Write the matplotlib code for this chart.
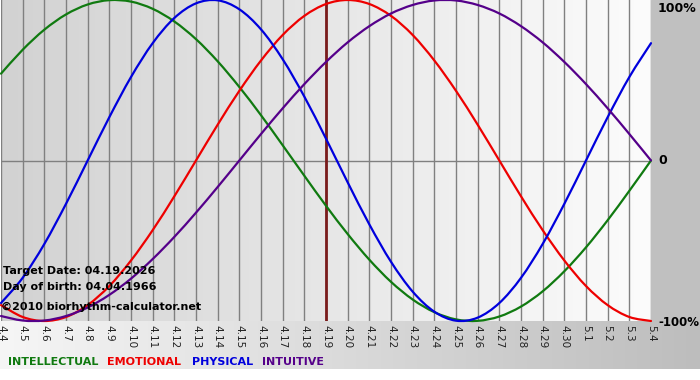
import numpy as np
import matplotlib
matplotlib.use('Agg')
import matplotlib.pyplot as plt
from matplotlib.colors import LinearSegmentedColormap
from matplotlib.path import Path
from matplotlib.patches import PathPatch

# Días del gráfico (4.4 a 5.4)
etiquetas = ['4.4', '4.5', '4.6', '4.7', '4.8', '4.9', '4.10', '4.11', '4.12', '4.13',
             '4.14', '4.15', '4.16', '4.17', '4.18', '4.19', '4.20', '4.21', '4.22', '4.23',
             '4.24', '4.25', '4.26', '4.27', '4.28', '4.29', '4.30', '5.1', '5.2', '5.3', '5.4']
dias = list(range(len(etiquetas)))

# Valores (-1 a 1)
intelectual = [0.541, 0.690, 0.815, 0.910, 0.972, 0.999, 0.990, 0.945, 0.866, 0.756, 0.618, 0.458,
               0.282, 0.095, -0.095, -0.282, -0.458, -0.618, -0.756, -0.866, -0.945, -0.990, -0.999,
               -0.972, -0.910, -0.815, -0.690, -0.541, -0.372, -0.189, 0.000]
emocional = [-0.901, -0.975, -1.000, -0.975, -0.901, -0.782, -0.623, -0.434, -0.223, 0.000, 0.223,
             0.434, 0.623, 0.782, 0.901, 0.975, 1.000, 0.975, 0.901, 0.782, 0.623, 0.434, 0.223,
             0.000, -0.223, -0.434, -0.623, -0.782, -0.901, -0.975, -1.000]
fisico = [-0.888, -0.731, -0.520, -0.270, 0.000, 0.270, 0.520, 0.731, 0.888, 0.979, 0.998, 0.942,
          0.817, 0.631, 0.398, 0.136, -0.136, -0.398, -0.631, -0.817, -0.942, -0.998, -0.979,
          -0.888, -0.731, -0.520, -0.270, 0.000, 0.270, 0.520, 0.731]
intuitivo = [-0.969, -0.997, -0.997, -0.969, -0.916, -0.837, -0.736, -0.614, -0.476, -0.325, -0.165,
             0.000, 0.165, 0.325, 0.476, 0.614, 0.736, 0.837, 0.916, 0.969, 0.997, 0.997, 0.969,
             0.916, 0.837, 0.736, 0.614, 0.476, 0.325, 0.165, 0.000]
dia_objetivo = 15


def curva_suave(ax, xs, ys, color):
    # Dibuja la línea con tramos Bezier que pasan por cada punto
    p = list(zip(xs, ys))
    n = len(p)
    verts = [p[0]]
    codes = [Path.MOVETO]
    for i in range(n - 1):
        p0 = p[i - 1] if i > 0 else p[i]
        p1, p2 = p[i], p[i + 1]
        p3 = p[i + 2] if i + 2 < n else p[i + 1]
        c1 = (p1[0] + (p2[0] - p0[0]) / 6, p1[1] + (p2[1] - p0[1]) / 6)
        c2 = (p2[0] - (p3[0] - p1[0]) / 6, p2[1] - (p3[1] - p1[1]) / 6)
        verts += [c1, c2, p2]
        codes += [Path.CURVE4] * 3
    ax.add_patch(PathPatch(Path(verts, codes), fill=False, edgecolor=color, lw=1.6,
                           zorder=3, clip_on=False, capstyle='round', joinstyle='round'))


W, H = 700, 380
fig = plt.figure(figsize=(W / 100, H / 100), dpi=100)
fig.patch.set_facecolor('white')

grad = np.linspace(0, 1, 256).reshape(1, -1)
cmap_abajo = LinearSegmentedColormap.from_list('abajo', ['#f6f6f6', '#bdbdbd'])
cmap_area = LinearSegmentedColormap.from_list('area', ['#d2d2d2', '#fcfcfc'])

# Fondo en coordenadas de pixel
fondo = fig.add_axes([0, 0, 1, 1])
fondo.set_xlim(0, W)
fondo.set_ylim(H, 0)
fondo.axis('off')
fondo.imshow(grad, extent=[0, W, 369, 321], aspect='auto', cmap=cmap_abajo,
             interpolation='bicubic', zorder=0)
fondo.add_patch(plt.Rectangle((651, 0), 49, 321, color='#c0c0c0', zorder=1))
fondo.text(658, 8, '100%', fontsize=9, fontweight='bold', va='center', ha='left')
fondo.text(658, 161, '0', fontsize=9, fontweight='bold', va='center', ha='left')
fondo.text(658, 322, '-100%', fontsize=8.5, fontweight='bold', va='center', ha='left')

nombres = ['INTELLECTUAL', 'EMOTIONAL', 'PHYSICAL', 'INTUITIVE']
colores = ['#107a10', '#ee0000', '#0000dd', '#55008a']
pos_x = [8, 107, 192, 262]
for nom, col, px in zip(nombres, colores, pos_x):
    fondo.text(px, 362, nom, color=col, fontsize=8, fontweight='bold', va='center', ha='left')

# Área del gráfico
ax = fig.add_axes([1 / W, (H - 321) / H, 650 / W, 321 / H])
ax.set_xlim(0, 30)
ax.set_ylim(-1, 1)
ax.imshow(grad, extent=[0, 30, -1, 1], aspect='auto', cmap=cmap_area,
          interpolation='bicubic', zorder=0)

for d in dias:
    ax.axvline(d, color='#808080', lw=1, zorder=1)
ax.axhline(0, color='#808080', lw=1, zorder=1)
ax.axvline(dia_objetivo, color='#7a1c1c', lw=2, zorder=2)

curva_suave(ax, dias, intelectual, colores[0])
curva_suave(ax, dias, emocional, colores[1])
curva_suave(ax, dias, fisico, colores[2])
curva_suave(ax, dias, intuitivo, colores[3])

ax.text(0.1, -0.69, 'Target Date: 04.19.2026', fontsize=8, fontweight='bold', va='center', zorder=4)
ax.text(0.1, -0.79, 'Day of birth: 04.04.1966', fontsize=8, fontweight='bold', va='center', zorder=4)
ax.text(0.0, -0.91, '\u00a92010 biorhythm-calculator.net', fontsize=8, fontweight='bold',
        va='center', zorder=4)

ax.set_xticks(dias)
ax.set_xticklabels(etiquetas, rotation=-90, fontsize=7.5, color='#222222', va='top')
ax.set_yticks([])
ax.tick_params(axis='x', length=0, pad=3)
for s in ax.spines.values():
    s.set_visible(False)

fig.savefig('out.png', dpi=100)
